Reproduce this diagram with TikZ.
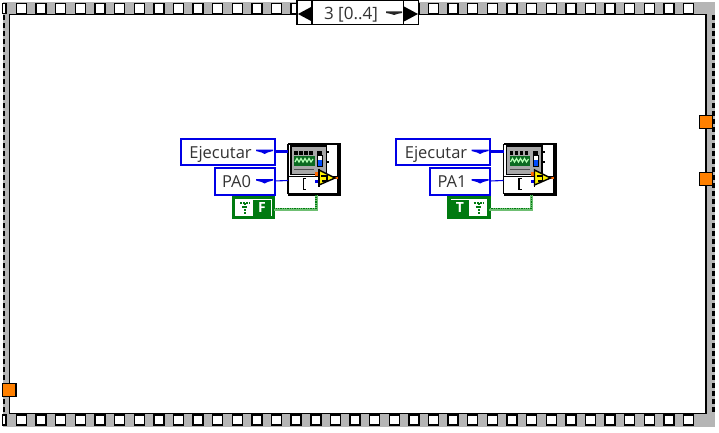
\documentclass[tikz,border=0pt]{standalone}
\usepackage{fontspec}
\setmainfont{Open Sans}
\definecolor{fgrey}{HTML}{B5B5B5}
\definecolor{lvblue}{HTML}{0000E6}
\definecolor{lvgreen}{HTML}{007A10}
\definecolor{lvlight}{HTML}{6FBF73}
\definecolor{lvorange}{HTML}{FF8000}
\definecolor{mongrey}{HTML}{A8A8A8}
\definecolor{scope}{HTML}{0A6A20}
\tikzset{
  x=1pt,y=-1pt,
  px/.style={line width=1pt},
  bluebox/.style={draw=lvblue,line width=2pt,fill=white,rectangle,inner sep=0pt,outer sep=0pt,font=\fontsize{16.5}{18}\selectfont,text=black!80,text height=14pt,text depth=1pt},
  term/.style={draw=black,line width=1.5pt,fill=lvorange,rectangle,inner sep=0pt,outer sep=0pt,minimum width=13pt,minimum height=13pt},
  sprocket/.style={draw=black,line width=1.4pt,fill=white},
  wirethick/.style={draw=lvblue,line width=2.2pt},
  wirethin/.style={draw=lvblue,line width=1.1pt},
  boolbox/.style={draw=lvgreen,line width=3.6pt,fill=white,rectangle,inner sep=0pt,outer sep=0pt,minimum width=40pt,minimum height=20pt},
  viicon/.style={draw=black,line width=1pt,fill=white,rectangle,inner sep=0pt,outer sep=0pt,minimum width=51pt,minimum height=50pt},
  tfletter/.style={fill=lvgreen,text=white,rectangle,inner sep=0pt,outer sep=0pt,minimum width=18pt,minimum height=16pt,font=\bfseries\fontsize{14}{14}\selectfont},
  selbox/.style={draw=black,line width=1.2pt,fill=white,rectangle,inner sep=0pt,outer sep=0pt,minimum height=24pt},
}
\newcommand{\enumglyph}[3]{%
  \fill[#3] (#1-8.5,#2-1.5) -- (#1+8.5,#2-1.5) -- (#1+8.5,#2) -- (#1+3,#2+1.5) -- (#1,#2+3) -- (#1-3,#2+1.5) -- (#1-8.5,#2) -- cycle;}
\newcommand{\treeglyph}[2]{%
  \draw[lvgreen,line width=2pt,densely dotted] (#1-5,#2-5) -- (#1+5,#2-5);
  \draw[lvgreen,line width=2pt,densely dotted] (#1-3,#2-1.5) -- (#1+3,#2-1.5);
  \draw[lvgreen,line width=2pt,densely dotted] (#1,#2-5) -- (#1,#2+6);}
\newcommand{\ctlgroup}[4]{%
\begin{scope}[shift={(#2,0)}]
  \node[bluebox,minimum width=94pt,minimum height=26pt] (#1ej) at (227.5,151.5) {\hspace*{-14pt}Ejecutar};
  \enumglyph{264.5}{151}{lvblue}
  \node[bluebox,minimum width=60pt,minimum height=27pt] (#1pa) at (244.5,181) {\hspace*{-16pt}#3};
  \enumglyph{264.5}{180.5}{lvblue}
  \fill[black] (290,146) rectangle (341,196);
  \node[viicon,minimum width=50pt,minimum height=49pt] (#1vi) at (312.5,168.5) {};
  \fill[black] (288,143) rectangle (339.5,145);
  \draw[black,line width=1.2pt] (288,176.5) -- (337,176.5);
  \draw[black,px] (288,145) -- (288,194);
  \fill[black] (288,193) rectangle (341,196);
  \fill[black] (337.5,143) rectangle (341,196);
  \draw[black,line width=1.6pt,fill=mongrey] (291,146) rectangle (326.5,174.5);
  \fill[black] (294,151) rectangle (297.5,154.5);
  \fill[black] (299,151) rectangle (302.5,154.5);
  \fill[black] (304,151) rectangle (307.5,154.5);
  \fill[black] (309,151) rectangle (312.5,154.5);
  \fill[black] (317,151) rectangle (322,154.5);
  \fill[scope] (294,156) rectangle (314.5,165.5);
  \draw[white!70!green,line width=1.2pt] (295,162) -- (297,158.5) -- (299,162) -- (301,158.5) -- (303,162) -- (305,158.5) -- (307,162) -- (309,158.5) -- (311,162) -- (313,159);
  \draw[black,line width=.8pt,fill=white] (317.5,155.5) rectangle (322.5,166);
  \fill[blue!70!cyan] (318,160) rectangle (322,165.5);
  \draw[black!70,line width=1.2pt] (294,169.5) -- (314,169.5);
  \draw[black,line width=1.2pt] (327,152) -- (329,152);
  \draw[black,line width=1.2pt] (327,162) -- (329,162);
  \draw[black,line width=1.8pt] (306,178.5) -- (303.5,178.5) -- (303.5,189.5) -- (306,189.5);
  \fill[lvorange!80!red] (315,172) rectangle (319,176);
  \fill[lvorange!80!red] (334,176.5) rectangle (338,179);
  \fill[lvblue] (315,180) rectangle (319,182.5);
  \draw[black,line width=1.4pt,fill=yellow] (319,170) -- (335,178) -- (319,185) -- cycle;
  \draw[black,line width=1.8pt] (319,168.5) -- (319,186.5);
  \draw[black,line width=1.2pt] (321,176) -- (327,176) -- (327,181) -- (322,181);
  \draw[wirethick] (#1ej.east) -- (288,151.5);
  \draw[wirethin] (#1pa.east) -- (288,180.5);
  \node[boolbox] (#1bo) at (253.5,207.5) {};
  #4
  \coordinate (#1wb) at (316,194.5);
  \draw[lvlight,line width=3pt] (#1bo.east) ++(0,1.8) -| (#1wb);
  \draw[lvgreen,line width=1.3pt,densely dotted] (#1bo.east) ++(0,.8) -| (#1wb);
\end{scope}}
\begin{document}
\begin{tikzpicture}
\useasboundingbox (0,0) rectangle (719,433);
\fill[white] (0,0) rectangle (719,433);
\fill[fgrey] (3,2) rectangle (715,427);
\draw[black,line width=1.4pt,fill=white] (9.5,14.5) rectangle (706,413.5);
\fill[white] (2,15) rectangle (3,413);
\draw[black,line width=2.5pt,dash pattern=on 5pt off 3pt] (4.2,15) -- (4.2,414);
\draw[black,line width=3pt,dash pattern=on 5pt off 3pt] (713.5,15) -- (713.5,414);
\foreach \k in {0,...,34}{
  \pgfmathsetmacro{\xx}{16.5+19.62*\k}
  \draw[sprocket] (\xx,3.5) rectangle ++(10,10);
  \draw[sprocket] (\xx,415) rectangle ++(10,10);
}
\draw[sprocket] (2.5,3.5) rectangle (6,13.5);
\draw[sprocket] (2.5,415) rectangle (6,425);
\fill[white] (715.5,0) rectangle (719,433);
\node[selbox,minimum width=92pt,font=\fontsize{17}{18}\selectfont,text=black!80,text height=16pt,text depth=1pt] (sel) at (358,12.5) {\hspace*{-14pt}3 [0..4]};
\node[selbox,minimum width=15pt] (selL) at (304.5,12.5) {};
\node[selbox,minimum width=15pt] (selR) at (411,12.5) {};
\fill[black] (298,14) -- (312,6.5) -- (312,21.5) -- cycle;
\fill[black] (418,14) -- (404,6.5) -- (404,21.5) -- cycle;
\fill[black!85] (386,11.5) -- (402,11.5) -- (402,13) -- (397,14) -- (394,15) -- (391,14) -- (386,13) -- cycle;
\node[term] (tL) at (9.5,390) {};
\node[term] (tR1) at (706,122) {};
\node[term] (tR2) at (706,179) {};
\fill[lvorange] (2.5,383.7) rectangle (9,396.3);
\ctlgroup{a}{0}{PA0}{%
  \treeglyph{245}{208}
  \node[tfletter] (atf) at (262,207.5) {F};}
\ctlgroup{b}{215.5}{PA1}{%
  \treeglyph{263}{208}
  \node[tfletter] (btf) at (244.5,207.5) {T};}
\end{tikzpicture}
\end{document}
